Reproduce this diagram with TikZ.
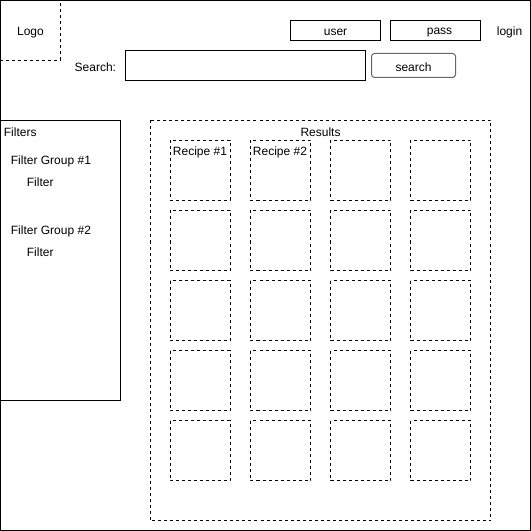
\documentclass[tikz,border=0pt]{standalone}
\usepackage{fontspec}
\setmainfont{Liberation Sans}
\usetikzlibrary{positioning}

\begin{document}
\begin{tikzpicture}[
            x = 1pt,
            y = -1pt,
            font = \fontsize{12}{14}\selectfont,
            line width = 0.9pt
        ]

        \tikzset{
            dashbox/.style = {draw = black, dashed, dash pattern = on 3pt off 3pt},
            solidbox/.style = {draw = black},
            btnbox/.style = {draw = gray!80!black, rounded corners = 3pt, line width = 1pt},
            lbl/.style = {inner sep = 0pt}
        }

        \draw[solidbox] (0,0) rectangle (530,530);

        % header
        \draw[dashbox] (0,0) rectangle (60,60);
        \node[lbl] (logo) at (30,32) {Logo};
        \draw[solidbox] (290,20) rectangle (380,40);
        \node[lbl] (user) at (335,32) {user};
        \draw[solidbox] (390,20) rectangle (480,40);
        \node[lbl] (pass) at (439,32) {pass};
        \node[lbl] (login) at (509,32) {login};
        \node[lbl, anchor = east] (searchlbl) at (116,67) {Search:};
        \draw[solidbox] (125,50) rectangle (365,80);
        \draw[btnbox] (371,53) rectangle (455,77);
        \node[lbl] (searchbtn) at (413,67) {search};

        % filters
        \draw[solidbox] (0,120) rectangle (120,400);
        \node[lbl, anchor = west] (filters) at (3,132) {Filters};
        \node[lbl, anchor = west] (grp1) at (10,161) {Filter Group \#1};
        \node[lbl, anchor = west] (flt1) at (26,182) {Filter};
        \node[lbl, anchor = west] (grp2) at (10,231) {Filter Group \#2};
        \node[lbl, anchor = west] (flt2) at (26,252) {Filter};

        % results
        \draw[dashbox] (150,120) rectangle (490,520);
        \node[lbl] (results) at (320,132) {Results};
        \foreach \c in {0,...,3} {
            \foreach \r in {0,...,4} {
                \draw[dashbox] (170+80*\c,140+70*\r) rectangle +(60,60);
            }
        }
        \node[lbl, anchor = west] (recipe1) at (172,152) {Recipe \#1};
        \node[lbl, anchor = west] (recipe2) at (252,152) {Recipe \#2};

    \end{tikzpicture}
\end{document}
